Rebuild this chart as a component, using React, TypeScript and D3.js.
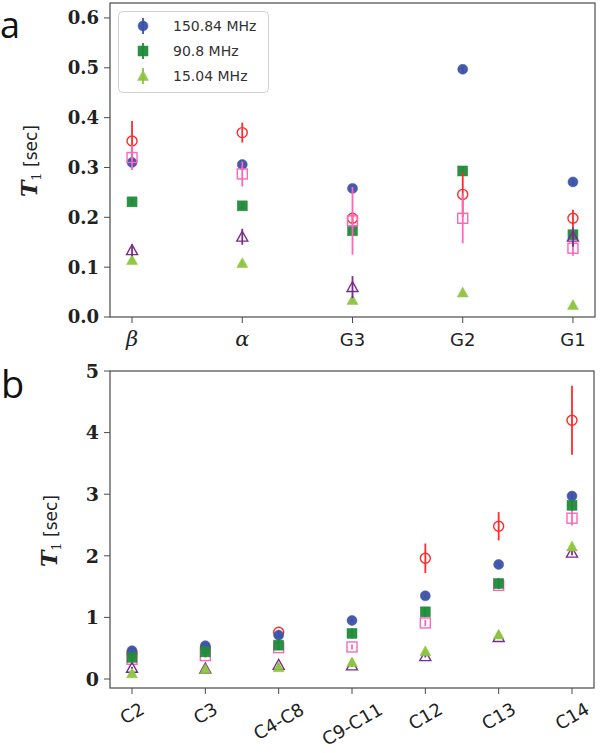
import React from "react";
import * as d3 from "d3";

// ---------- Panel a data ----------
const catsA = ["β", "α", "G3", "G2", "G1"];
const a150 = [0.31, 0.306, 0.258, 0.497, 0.271];
const a150Err = [0.006, 0.005, 0.005, 0.006, 0.005];
const a90 = [0.231, 0.223, 0.173, 0.293, 0.165];
const a90Err = [0.006, 0.006, 0.006, 0.008, 0.006];
const a15 = [0.114, 0.108, 0.034, 0.049, 0.024];
const a15Err = [0.004, 0.004, 0.004, 0.004, 0.004];
const aRed = [0.353, 0.37, 0.198, 0.246, 0.198];
const aRedErr = [0.04, 0.02, 0.012, 0.045, 0.017];
const aPink = [0.32, 0.287, 0.193, 0.198, 0.138];
const aPinkErr = [0.025, 0.025, 0.068, 0.05, 0.015];
const aPurple: (number | null)[] = [0.134, 0.161, 0.06, null, 0.161];
const aPurpleErr = [0.012, 0.016, 0.022, 0, 0.02];
const ticksA = [0, 0.1, 0.2, 0.3, 0.4, 0.5, 0.6];

// ---------- Panel b data ----------
const catsB = ["C2", "C3", "C4-C8", "C9-C11", "C12", "C13", "C14"];
const b150 = [0.46, 0.54, 0.71, 0.95, 1.35, 1.86, 2.97];
const b150Err = [0.02, 0.02, 0.02, 0.02, 0.03, 0.03, 0.05];
const b90 = [0.35, 0.44, 0.55, 0.74, 1.09, 1.55, 2.82];
const b90Err = [0.08, 0.08, 0.08, 0.08, 0.08, 0.09, 0.09];
const b15 = [0.09, 0.16, 0.19, 0.27, 0.45, 0.72, 2.15];
const b15Err = [0.02, 0.02, 0.02, 0.02, 0.02, 0.03, 0.04];
const bRed: (number | null)[] = [0.42, 0.5, 0.76, null, 1.96, 2.48, 4.2];
const bRedErr = [0.03, 0.03, 0.04, 0, 0.24, 0.23, 0.56];
const bPink = [0.32, 0.38, 0.51, 0.52, 0.91, 1.52, 2.61];
const bPinkErr = [0.03, 0.03, 0.03, 0.04, 0.05, 0.05, 0.12];
const bPurple = [0.18, 0.17, 0.23, 0.22, 0.37, 0.68, 2.05];
const bPurpleErr = [0.02, 0.02, 0.02, 0.02, 0.02, 0.03, 0.04];
const ticksB = [0, 1, 2, 3, 4, 5];

const legendLabels = ["150.84 MHz", "90.8 MHz", "15.04 MHz"];

const BLUE = "#3b52a8";
const GREEN = "#1e8b3a";
const LGREEN = "#8dc63f";
const RED = "#ff2a2a";
const PINK = "#ff66b8";
const PURPLE = "#7a2c8e";
const SPINE = "#4a4a4a";

type Shape = "circle" | "square" | "triangle";

function Marker({ shape, cx, cy, color, filled, r = 5 }: { shape: Shape; cx: number; cy: number; color: string; filled: boolean; r?: number }) {
  const common = {
    fill: filled ? color : "none",
    stroke: color,
    strokeWidth: filled ? 0.5 : 1.4,
    opacity: filled ? 0.95 : 1,
  };
  if (shape === "circle") return <circle cx={cx} cy={cy} r={r} {...common} />;
  if (shape === "square") return <rect x={cx - r} y={cy - r} width={2 * r} height={2 * r} {...common} />;
  const s = r + 0.5;
  return <path d={`M${cx},${cy - s}L${cx + s},${cy + s * 0.8}L${cx - s},${cy + s * 0.8}Z`} {...common} />;
}

interface Series {
  values: (number | null)[];
  errs: number[];
  color: string;
  shape: Shape;
  filled: boolean;
}

function SeriesMarks({ s, x, y }: { s: Series; x: (i: number) => number; y: d3.ScaleLinear<number, number> }) {
  return (
    <g>
      {s.values.map((v, i) => {
        if (v == null) return null;
        const cx = x(i);
        return (
          <g key={i}>
            <line x1={cx} x2={cx} y1={y(v - s.errs[i])} y2={y(v + s.errs[i])} stroke={s.color} strokeWidth={1.8} />
            <Marker shape={s.shape} cx={cx} cy={y(v)} color={s.color} filled={s.filled} />
          </g>
        );
      })}
    </g>
  );
}

function YLabel({ x, y }: { x: number; y: number }) {
  return (
    <text transform={`translate(${x},${y}) rotate(-90)`} textAnchor="middle" fill="#222">
      <tspan fontFamily="DejaVu Serif" fontStyle="italic" fontWeight="bold" fontSize={22}>T</tspan>
      <tspan fontFamily="DejaVu Serif" fontSize={13} dy={4}>1</tspan>
      <tspan fontFamily="DejaVu Sans" fontSize={17} dy={-4}> [sec]</tspan>
    </text>
  );
}

export default function App() {
  // Panel a scales
  const xA = d3.scaleLinear().domain([-0.2, 4.2]).range([110, 595]);
  const yA = d3.scaleLinear().domain([0, 0.63]).range([317, 3]);
  // Panel b scales
  const xB = d3.scaleLinear().domain([-0.3, 6.3]).range([110, 594]);
  const yB = d3.scaleLinear().domain([-0.146, 5]).range([688, 371]);

  const seriesA: Series[] = [
    { values: a150, errs: a150Err, color: BLUE, shape: "circle", filled: true },
    { values: a90, errs: a90Err, color: GREEN, shape: "square", filled: true },
    { values: a15, errs: a15Err, color: LGREEN, shape: "triangle", filled: true },
    { values: aRed, errs: aRedErr, color: RED, shape: "circle", filled: false },
    { values: aPink, errs: aPinkErr, color: PINK, shape: "square", filled: false },
    { values: aPurple, errs: aPurpleErr, color: PURPLE, shape: "triangle", filled: false },
  ];
  const seriesB: Series[] = [
    { values: bRed, errs: bRedErr, color: RED, shape: "circle", filled: false },
    { values: bPink, errs: bPinkErr, color: PINK, shape: "square", filled: false },
    { values: bPurple, errs: bPurpleErr, color: PURPLE, shape: "triangle", filled: false },
    { values: b150, errs: b150Err, color: BLUE, shape: "circle", filled: true },
    { values: b90, errs: b90Err, color: GREEN, shape: "square", filled: true },
    { values: b15, errs: b15Err, color: LGREEN, shape: "triangle", filled: true },
  ];

  const [ax0, ax1] = xA.range();
  const [ay0, ay1] = yA.range();
  const [bx0, bx1] = xB.range();
  const [by0, by1] = yB.range();
  const rot = 30;
  const fsB = 18;

  return (
    <svg width={600} height={753} style={{ position: "absolute", left: 0, top: 0, background: "#fff" }}>
      <rect width={600} height={753} fill="#fff" />
      {/* Panel letters */}
      <text x={0} y={38} fontFamily="Open Sans" fontSize={36} fill="#111">a</text>
      <text x={1} y={398} fontFamily="Open Sans" fontSize={38} fill="#111">b</text>

      {/* ===== Panel a ===== */}
      <g>
        {seriesA.map((s, k) => (
          <SeriesMarks key={k} s={s} x={(i) => xA(i)} y={yA} />
        ))}
        <rect x={ax0} y={ay1} width={ax1 - ax0} height={ay0 - ay1} fill="none" stroke={SPINE} strokeWidth={1.2} />
        {ticksA.map((t) => (
          <g key={t}>
            <line x1={ax0 - 6} x2={ax0} y1={yA(t)} y2={yA(t)} stroke={SPINE} strokeWidth={1} />
            <text x={ax0 - 11} y={yA(t)} dy="0.36em" textAnchor="end" fontFamily="DejaVu Serif" fontWeight="bold" fontSize={18} fill="#222">
              {t.toFixed(1)}
            </text>
          </g>
        ))}
        {catsA.map((c, i) => (
          <g key={c}>
            <line x1={xA(i)} x2={xA(i)} y1={ay0} y2={ay0 + 6} stroke={SPINE} strokeWidth={1} />
            <text
              x={xA(i)}
              y={ay0 + 29}
              textAnchor="middle"
              fontFamily={i < 2 ? "DejaVu Serif" : "DejaVu Sans"}
              fontStyle={i < 2 ? "italic" : "normal"}
              fontSize={i < 2 ? 21 : 18}
              fill="#222"
            >
              {c}
            </text>
          </g>
        ))}
        <YLabel x={37} y={161} />

        {/* Legend */}
        <rect x={118.5} y={11.5} width={150} height={81} rx={4} fill="#fff" fillOpacity={0.8} stroke="#d0d0d0" strokeWidth={1} />
        {legendLabels.map((l, k) => {
          const s = seriesA[k];
          const ly = 26 + k * 25;
          return (
            <g key={l}>
              <line x1={143} x2={143} y1={ly - 8} y2={ly + 8} stroke={s.color} strokeWidth={1.8} />
              <Marker shape={s.shape} cx={143} cy={ly} color={s.color} filled={true} />
              <text x={173} y={ly} dy="0.36em" fontFamily="DejaVu Sans" fontSize={14} fill="#333">
                {l}
              </text>
            </g>
          );
        })}
      </g>

      {/* ===== Panel b ===== */}
      <g>
        {seriesB.map((s, k) => (
          <SeriesMarks key={k} s={s} x={(i) => xB(i)} y={yB} />
        ))}
        <rect x={bx0} y={by1} width={bx1 - bx0} height={by0 - by1} fill="none" stroke={SPINE} strokeWidth={1.2} />
        {ticksB.map((t) => (
          <g key={t}>
            <line x1={bx0 - 6} x2={bx0} y1={yB(t)} y2={yB(t)} stroke={SPINE} strokeWidth={1} />
            <text x={bx0 - 11} y={yB(t)} dy="0.36em" textAnchor="end" fontFamily="DejaVu Serif" fontWeight="bold" fontSize={19} fill="#222">
              {t}
            </text>
          </g>
        ))}
        {catsB.map((c, i) => {
          const w = c.length * 0.6 * fsB;
          const h = 0.75 * fsB;
          const rad = (rot * Math.PI) / 180;
          const bh = w * Math.sin(rad) + h * Math.cos(rad);
          const cy = by0 + 14 + bh / 2;
          return (
            <g key={c}>
              <line x1={xB(i)} x2={xB(i)} y1={by0} y2={by0 + 6} stroke={SPINE} strokeWidth={1} />
              <text
                transform={`translate(${xB(i)},${cy}) rotate(${-rot})`}
                textAnchor="middle"
                dy="0.36em"
                fontFamily="DejaVu Sans"
                fontSize={fsB}
                fill="#222"
              >
                {c}
              </text>
            </g>
          );
        })}
        <YLabel x={57} y={531} />
      </g>
    </svg>
  );
}
